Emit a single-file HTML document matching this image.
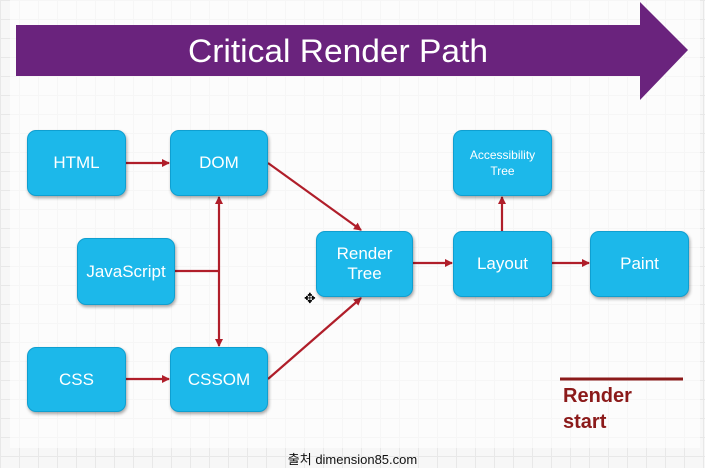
<!DOCTYPE html>
<html><head><meta charset="utf-8"><style>
html,body{margin:0;padding:0}
body{width:705px;height:468px;overflow:hidden;background:#f7f7f7;
background-image:linear-gradient(#e8e8e8 1px,transparent 1px),linear-gradient(90deg,#e8e8e8 1px,transparent 1px);background-size:19px 19px;position:relative;font-family:"Liberation Sans",sans-serif}
.b{position:absolute;background:#1cb8ea;border-radius:9px;color:#fff;display:flex;align-items:center;justify-content:center;text-align:center;font-size:17px;box-shadow:1px 2px 3px rgba(0,0,0,.35);border:1px solid #0f9fd0;box-sizing:border-box}
</style></head><body>
<div style="position:absolute;left:10px;top:0;width:690px;height:448px;background:rgba(255,255,255,.6)"></div>
<svg width="705" height="468" style="position:absolute;left:0;top:0">
<defs><marker id="a" markerWidth="8" markerHeight="8" refX="7" refY="4" orient="auto" markerUnits="userSpaceOnUse"><path d="M0,0 L8,4 L0,8z" fill="#b01e2a"/></marker></defs>
<polygon points="16,25 640,25 640,2 688,50 640,100 640,76 16,76" fill="#6a237d"/>
<text x="338" y="62" font-size="32" fill="#fff" text-anchor="middle" font-family="Liberation Sans" textLength="300" lengthAdjust="spacingAndGlyphs">Critical Render Path</text>
<g stroke="#b01e2a" stroke-width="2.2" fill="none">
<line x1="126" y1="163" x2="169" y2="163" marker-end="url(#a)"/>
<line x1="268" y1="163" x2="361" y2="230" marker-end="url(#a)"/>
<line x1="175" y1="271" x2="219" y2="271"/>
<line x1="219" y1="271" x2="219" y2="197" marker-end="url(#a)"/>
<line x1="219" y1="271" x2="219" y2="346" marker-end="url(#a)"/>
<line x1="126" y1="379" x2="169" y2="379" marker-end="url(#a)"/>
<line x1="268" y1="379" x2="361" y2="298" marker-end="url(#a)"/>
<line x1="413" y1="263" x2="452" y2="263" marker-end="url(#a)"/>
<line x1="552" y1="263" x2="589" y2="263" marker-end="url(#a)"/>
<line x1="502" y1="231" x2="502" y2="197" marker-end="url(#a)"/>
</g>
<line x1="560" y1="379" x2="683" y2="379" stroke="#8b1a1a" stroke-width="3"/>
<text x="563" y="402" font-size="20" font-weight="bold" fill="#8b1a1a">Render</text>
<text x="563" y="428" font-size="20" font-weight="bold" fill="#8b1a1a">start</text>
<text x="304" y="303" font-size="14" fill="#000">✥</text>
</svg>
<div class="b" style="left:27px;top:130px;width:99px;height:66px">HTML</div>
<div class="b" style="left:170px;top:130px;width:98px;height:66px">DOM</div>
<div class="b" style="left:77px;top:238px;width:98px;height:67px">JavaScript</div>
<div class="b" style="left:27px;top:347px;width:99px;height:65px">CSS</div>
<div class="b" style="left:170px;top:347px;width:98px;height:65px">CSSOM</div>
<div class="b" style="left:316px;top:231px;width:97px;height:66px;line-height:20px">Render<br>Tree</div>
<div class="b" style="left:453px;top:231px;width:99px;height:66px">Layout</div>
<div class="b" style="left:590px;top:231px;width:99px;height:66px">Paint</div>
<div class="b" style="left:453px;top:130px;width:99px;height:66px;font-size:12px;line-height:16px">Accessibility<br>Tree</div>
<div style="position:absolute;left:0;width:705px;top:449px;text-align:center;font-size:13px;color:#111;font-family:'Liberation Sans','Noto Sans CJK KR',sans-serif">출처 dimension85.com</div>
</body></html>
